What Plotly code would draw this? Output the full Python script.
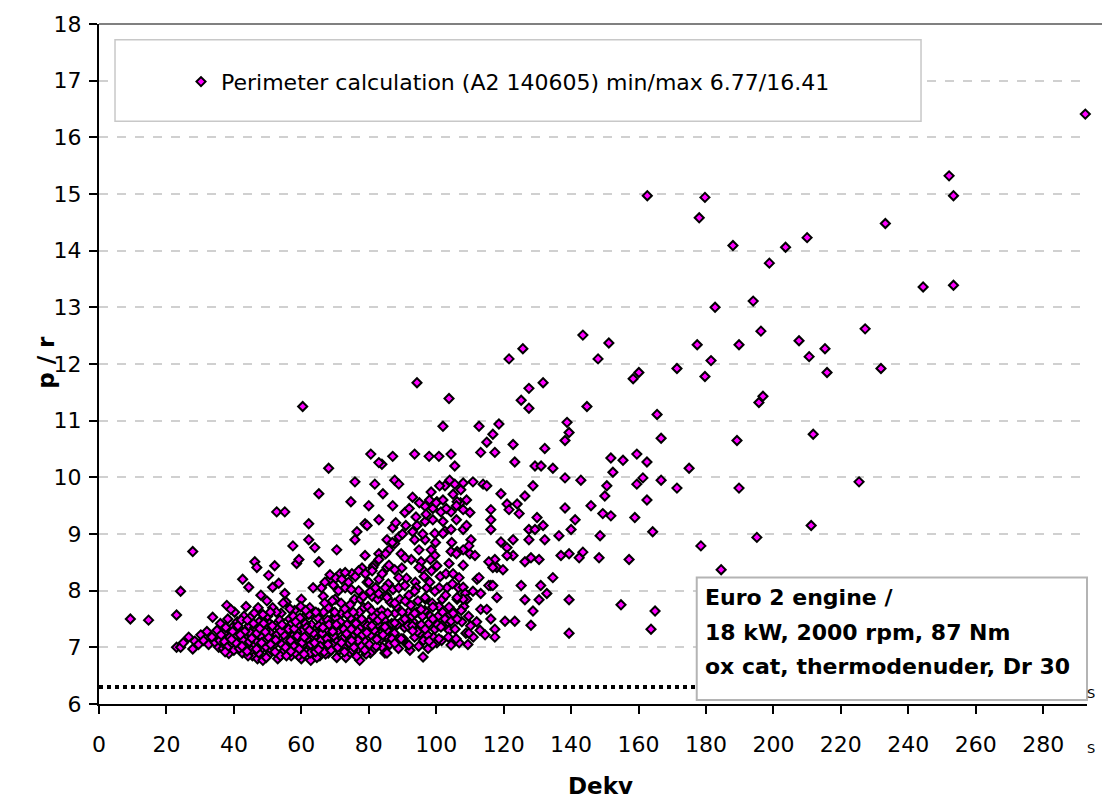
import plotly.graph_objects as go

# ---- data ----
sparse_pts = [
    (292.5, 16.41), (252.1, 15.32), (253.4, 14.97), (162.6, 14.97), (179.7, 14.94), (178.0, 14.58),
    (233.2, 14.48), (188.0, 14.09), (203.6, 14.06), (210.0, 14.23), (198.8, 13.78), (244.4, 13.36),
    (253.4, 13.39), (182.7, 13.00), (194.0, 13.11), (196.3, 12.58), (227.2, 12.62), (151.2, 12.37),
    (177.4, 12.34), (189.8, 12.34), (207.6, 12.41), (210.6, 12.13), (215.3, 12.27), (148.0, 12.09),
    (181.5, 12.06), (171.4, 11.92), (179.7, 11.78), (215.9, 11.85), (231.9, 11.92), (158.4, 11.74),
    (160.1, 11.85), (196.9, 11.43), (195.7, 11.32), (165.5, 11.11), (166.7, 10.69), (189.2, 10.65),
    (211.8, 10.76), (151.8, 10.34), (155.4, 10.30), (159.5, 10.41), (162.5, 10.27), (152.4, 10.09),
    (175.0, 10.16), (150.6, 9.85), (161.3, 9.99), (159.5, 9.88), (166.7, 9.95), (171.4, 9.81),
    (189.8, 9.81), (225.4, 9.92), (150.0, 9.67), (162.5, 9.60), (149.4, 9.36), (151.8, 9.32),
    (158.9, 9.29), (164.2, 9.04), (211.2, 9.15), (148.6, 8.97), (178.5, 8.79), (195.1, 8.94),
    (148.3, 8.58), (157.2, 8.55), (184.5, 8.37), (154.8, 7.75), (164.9, 7.64), (163.7, 7.32),
    (139.4, 7.25), (139.4, 7.84), (143.5, 12.51), (125.7, 12.27), (121.6, 12.09), (94.3, 11.67),
    (103.8, 11.39), (127.5, 11.57), (131.7, 11.67), (125.2, 11.36), (127.5, 11.22), (144.7, 11.25),
    (138.8, 10.97), (139.4, 10.79), (138.2, 10.65), (102.0, 10.90), (112.7, 10.90), (118.6, 10.94),
    (116.8, 10.76), (115.0, 10.62), (113.2, 10.44), (117.4, 10.44), (122.8, 10.58), (132.2, 10.51),
    (123.3, 10.27), (129.3, 10.20), (131.1, 10.20), (134.6, 10.16), (87.1, 10.37), (93.6, 10.41),
    (97.9, 10.37), (100.8, 10.37), (104.4, 10.41), (105.5, 10.20), (83.9, 10.23), (60.4, 11.25),
    (68.1, 10.16), (80.6, 10.41), (83.0, 10.26), (9.3, 7.50), (14.7, 7.48), (27.8, 8.69), (24.2, 7.99),
    (23.0, 7.57),
]

mid_pts = [
    (138.2, 9.99), (142.9, 9.95), (128.7, 9.85), (110.9, 9.92), (113.9, 9.88), (115.0, 9.85),
    (87.7, 9.95), (88.9, 9.88), (102.6, 9.85), (105.5, 9.88), (107.3, 9.78), (98.5, 9.74),
    (84.2, 9.71), (119.2, 9.71), (126.3, 9.67), (145.9, 9.50), (138.2, 9.46), (121.0, 9.53),
    (124.0, 9.53), (121.6, 9.43), (124.6, 9.36), (116.2, 9.43), (116.2, 9.25), (116.2, 9.08),
    (129.9, 9.29), (141.2, 9.25), (140.0, 9.08), (136.4, 8.97), (127.5, 9.08), (131.7, 9.15),
    (129.3, 9.08), (132.2, 8.90), (127.5, 8.90), (122.8, 8.90), (119.2, 8.86), (121.0, 8.76),
    (122.8, 8.62), (121.0, 8.62), (137.0, 8.62), (139.4, 8.65), (143.5, 8.68), (142.4, 8.58),
    (126.3, 8.51), (130.5, 8.55), (128.1, 8.58), (117.4, 8.55), (118.0, 8.41), (116.2, 8.09),
    (112.1, 8.20), (134.6, 8.23), (131.0, 8.09), (132.8, 7.95), (125.2, 8.09), (126.3, 7.84),
    (130.5, 7.84), (128.7, 7.64), (128.1, 7.39), (123.3, 7.46), (120.4, 7.46), (109.7, 7.25),
    (114.5, 7.22), (117.4, 7.32), (117.4, 7.18), (116.2, 7.50), (113.2, 7.67), (115.0, 7.67),
    (118.0, 7.88), (96.1, 6.83), (104.4, 7.04), (75.9, 9.92), (81.8, 9.88), (65.2, 9.71),
    (74.7, 9.57), (80.0, 9.50), (87.1, 9.50), (90.7, 9.38), (52.7, 9.39), (55.1, 9.39),
    (62.2, 9.18), (83.0, 9.25), (78.9, 9.18), (87.1, 9.11), (96.7, 9.49), (99.0, 9.45),
    (100.2, 9.57), (101.4, 9.39), (104.4, 9.39), (106.2, 9.57), (108.0, 9.43), (110.0, 9.38),
    (94.3, 9.15), (96.7, 9.22), (99.6, 9.01), (102.0, 9.01), (104.4, 9.08), (102.0, 9.22),
    (108.0, 9.08), (93.0, 9.04), (93.6, 8.90), (96.7, 8.90), (85.4, 8.90), (87.7, 8.83),
    (86.0, 8.72), (94.9, 8.72), (98.5, 8.72), (110.3, 8.90), (109.7, 8.79), (108.0, 8.72),
    (106.2, 8.69), (104.4, 8.69), (106.0, 8.65), (111.5, 8.62), (115.6, 8.51), (116.8, 8.41),
    (119.8, 8.37), (83.0, 8.65), (89.6, 8.65), (90.7, 8.58), (85.4, 8.41), (87.7, 8.37),
    (95.5, 8.51), (94.9, 8.41), (100.2, 8.44), (99.6, 8.62), (98.3, 8.55), (103.8, 8.48),
    (105.0, 8.30), (106.8, 8.23), (112.7, 8.23), (110.9, 7.99), (108.0, 8.06), (108.6, 7.95),
    (109.1, 7.85), (113.2, 7.95), (115.6, 8.09), (116.8, 8.09), (91.9, 7.04), (87.7, 7.07),
    (85.4, 6.90), (89.6, 7.15), (97.9, 7.11), (100.8, 7.15), (96.7, 7.32), (93.0, 7.29),
    (99.0, 7.50), (101.4, 7.36), (102.6, 7.50), (104.4, 7.46), (106.2, 7.50), (103.8, 7.71),
    (105.0, 7.60), (108.0, 7.85), (106.2, 7.88), (99.6, 7.99), (96.7, 7.88), (93.6, 7.99),
    (90.7, 8.09), (88.9, 8.23), (85.4, 7.88), (87.7, 7.78), (92.5, 7.74), (95.5, 7.67),
    (90.7, 7.50), (87.7, 7.43), (84.8, 7.36), (84.2, 7.22), (93.6, 7.60), (99.0, 7.71),
    (33.7, 7.53), (37.9, 7.74), (39.1, 7.67), (42.6, 8.20), (44.4, 8.06), (46.2, 8.51),
    (46.8, 8.41), (52.1, 8.44), (50.3, 8.27), (48.0, 7.92), (51.5, 8.06), (53.3, 8.13),
    (55.1, 7.95), (57.5, 8.79), (58.6, 8.48), (59.3, 8.55), (62.2, 8.90), (64.0, 8.76),
    (65.2, 8.51), (70.5, 8.72), (76.5, 9.04), (75.9, 8.90), (78.9, 8.62), (79.5, 9.15),
    (81.2, 8.41), (66.0, 8.05), (67.0, 8.15), (68.5, 8.28), (69.5, 8.10), (70.2, 8.22),
    (71.0, 8.00), (72.0, 8.20), (73.0, 8.32), (74.0, 8.15), (74.8, 8.02), (76.0, 8.25),
    (77.0, 8.35), (79.0, 8.30), (80.0, 8.15), (81.0, 8.35), (82.0, 8.05), (83.0, 8.55),
    (84.0, 8.30), (85.0, 8.65), (86.0, 8.45), (87.0, 8.85), (88.0, 9.20), (89.0, 8.95),
    (90.0, 9.00), (91.0, 9.15), (92.0, 9.45), (93.0, 9.65), (94.0, 9.30), (95.0, 9.55),
    (96.0, 9.00), (97.0, 9.35), (98.0, 9.60), (99.0, 9.25), (100.0, 9.55), (101.0, 9.85),
    (102.0, 9.60), (103.0, 9.45), (104.0, 9.95), (105.0, 9.70), (106.0, 9.50), (108.0, 9.90),
    (109.0, 9.15),
]

core_pts = [
    (23.0, 7.00), (24.2, 7.00), (25.0, 7.08), (26.6, 7.18), (27.8, 6.97), (28.4, 7.11), (29.5, 7.05),
    (30.2, 7.22), (31.0, 7.12), (32.0, 7.28), (32.5, 7.05), (33.5, 7.18), (34.5, 7.08), (35.0, 7.30),
    (35.5, 7.00), (36.0, 7.42), (36.5, 7.15), (37.0, 7.25), (38.5, 6.89), (39.0, 7.05), (39.5, 7.35),
    (40.0, 6.95), (40.5, 7.20), (41.0, 7.45), (41.5, 7.08), (42.0, 7.30), (42.5, 6.90), (43.0, 7.55),
    (43.5, 7.15), (44.0, 7.00), (44.5, 7.38), (45.0, 7.25), (45.5, 6.85), (46.0, 7.60), (46.5, 7.10),
    (47.0, 6.80), (47.5, 7.45), (48.0, 7.20), (48.6, 6.77), (49.0, 7.35), (49.5, 7.00), (50.0, 7.55),
    (50.5, 6.88), (51.0, 7.25), (51.5, 7.70), (52.0, 7.05), (52.5, 7.40), (53.0, 6.80), (53.5, 7.15),
    (54.0, 7.60), (54.5, 6.92), (55.0, 7.30), (55.5, 7.80), (56.0, 7.05), (56.5, 7.50), (57.0, 6.85),
    (57.5, 7.20), (58.0, 7.65), (58.5, 6.95), (59.0, 7.40), (59.5, 7.10), (60.0, 7.85), (60.0, 6.80),
    (60.5, 7.30), (61.0, 7.55), (61.5, 6.92), (62.0, 7.15), (62.5, 7.70), (62.8, 6.77), (63.0, 7.40),
    (63.5, 8.05), (64.0, 7.00), (64.5, 7.25), (65.0, 7.60), (65.5, 6.85), (66.0, 7.45), (66.5, 7.90),
    (67.0, 7.10), (67.5, 7.30), (68.0, 6.90), (68.0, 7.70), (68.5, 8.20), (69.0, 7.50), (69.5, 7.05),
    (70.0, 7.85), (70.5, 6.82), (71.0, 7.30), (71.5, 8.30), (72.0, 7.60), (72.5, 7.00), (73.0, 8.05),
    (73.5, 7.40), (74.0, 6.88), (74.5, 7.75), (75.0, 8.30), (75.0, 7.20), (76.0, 7.55), (76.5, 6.95),
    (77.0, 8.00), (77.3, 6.77), (77.5, 7.35), (78.0, 8.40), (78.5, 7.70), (79.0, 7.10), (79.5, 8.15),
    (80.0, 7.45), (80.5, 6.90), (81.0, 7.90), (81.5, 8.45), (82.0, 7.25), (82.5, 7.60), (83.0, 8.20),
    (84.0, 7.00), (84.8, 6.90), (85.0, 7.18),
    (35.8, 7.12), (36.8, 6.98), (37.6, 7.35), (38.2, 7.50), (38.8, 7.18), (40.2, 7.62), (40.8, 7.32),
    (41.6, 6.98), (42.2, 7.48), (42.8, 7.12), (43.6, 7.72), (44.2, 6.85), (44.8, 7.52), (45.6, 7.02),
    (46.2, 7.35), (47.2, 7.70), (47.8, 6.95), (48.6, 7.58), (49.2, 7.12), (49.8, 7.82), (50.6, 7.42),
    (51.2, 6.95), (51.8, 7.18), (52.6, 7.62), (53.2, 7.35), (53.8, 6.85), (54.6, 7.78), (55.2, 7.12),
    (55.8, 6.98), (56.6, 7.68), (57.2, 7.42), (57.8, 7.02), (58.6, 7.28), (59.2, 6.85), (59.8, 7.72),
    (60.6, 7.05), (61.2, 7.42), (61.8, 7.22), (62.6, 6.90), (63.2, 7.58), (63.8, 7.18), (64.6, 6.82),
    (65.2, 7.38), (65.8, 7.12), (66.6, 7.62), (67.2, 6.88), (67.8, 7.48), (68.6, 7.18), (69.2, 7.82),
    (69.8, 7.35), (70.6, 7.12), (71.2, 6.95), (71.8, 7.78), (72.6, 7.32), (73.2, 6.82), (73.8, 7.18),
    (74.6, 7.52), (75.2, 6.95), (75.8, 7.85), (76.6, 7.28), (77.2, 7.62), (77.8, 7.02), (78.6, 7.42),
    (79.2, 6.88), (79.8, 7.72), (80.6, 7.22), (81.2, 7.55), (81.8, 6.98), (82.6, 7.85), (83.2, 7.38),
    (83.8, 7.65), (84.6, 7.48), (85.2, 7.92), (85.8, 8.12), (86.6, 7.28), (87.2, 8.02), (87.8, 7.60),
    (88.6, 7.15), (89.2, 7.85), (89.8, 8.40), (90.6, 7.35), (91.2, 8.22), (91.8, 7.62), (92.6, 8.55),
    (93.2, 7.45), (93.8, 8.15), (94.6, 7.82), (95.2, 7.25), (95.8, 8.38), (96.6, 7.65), (97.2, 8.05),
    (97.8, 7.42), (98.6, 8.35), (99.2, 7.18), (99.8, 8.85), (100.6, 7.55), (101.2, 8.25), (101.8, 7.85),
    (102.6, 9.05), (103.2, 8.05), (103.8, 7.30), (104.6, 8.85), (105.2, 7.62), (106.0, 9.25),
    (106.6, 8.05), (107.2, 9.55), (108.0, 8.45), (109.0, 9.60), (110.0, 8.65),
    (36.2, 7.22), (37.2, 7.10), (38.0, 7.00), (39.6, 7.28), (40.6, 7.08), (41.2, 7.38), (42.4, 7.02),
    (43.2, 7.28), (44.0, 7.48), (44.6, 7.10), (45.2, 6.95), (45.8, 7.42), (46.8, 7.25), (47.4, 6.90),
    (48.2, 7.08), (48.8, 7.42), (49.6, 6.82), (50.2, 7.18), (50.8, 7.62), (51.4, 7.38), (52.2, 6.92),
    (52.8, 7.22), (53.6, 7.48), (54.2, 7.05), (54.8, 7.22), (55.6, 6.85), (56.2, 7.32), (56.8, 7.12),
    (57.6, 7.55), (58.2, 6.90), (58.8, 7.20), (59.6, 7.52), (60.2, 7.08), (60.8, 6.88), (61.6, 7.35),
    (62.2, 7.58), (62.8, 7.05), (63.6, 7.25), (64.2, 6.92), (64.8, 7.52), (65.6, 7.02), (66.2, 7.25),
    (66.8, 6.92), (67.6, 7.15), (68.2, 7.40), (68.8, 6.95), (69.6, 7.20), (70.2, 7.52), (70.8, 7.00),
    (71.6, 7.45), (72.2, 7.15), (72.8, 6.92), (73.6, 7.58), (74.2, 7.08), (74.8, 7.32), (75.6, 7.00),
    (76.2, 7.42), (76.8, 7.12), (77.6, 7.85), (78.2, 7.22), (78.8, 6.95), (79.6, 7.38), (80.2, 7.05),
    (80.8, 7.65), (81.6, 7.30), (82.2, 7.02), (82.8, 7.48), (83.6, 7.15), (84.4, 7.35), (85.6, 7.60),
    (86.2, 7.05), (86.8, 7.42), (87.6, 7.25), (88.2, 7.72), (88.8, 6.98), (89.6, 7.45), (90.2, 7.15),
    (90.8, 7.82), (91.6, 7.38), (92.2, 6.95), (92.8, 7.55), (93.6, 7.18), (94.2, 7.62), (94.8, 7.02),
    (95.6, 7.40), (96.2, 7.12), (96.8, 7.85), (97.6, 6.98), (98.2, 7.55), (98.8, 7.78), (99.6, 7.32),
    (100.2, 7.08), (100.8, 7.72), (101.6, 7.12), (102.2, 7.42), (102.8, 7.92), (103.6, 7.18),
    (104.2, 7.58), (104.8, 8.12), (105.6, 7.32), (106.2, 7.85), (106.8, 7.08), (107.6, 7.45),
    (108.2, 7.72), (108.8, 7.25), (109.6, 7.55), (110.2, 7.38), (111.0, 7.18), (112.0, 7.45),
    (113.0, 7.30),
    (37.4, 6.92), (39.3, 7.14), (41.9, 7.22), (43.9, 6.93), (45.3, 7.16), (46.7, 6.97), (47.7, 7.33),
    (49.3, 7.27), (50.9, 7.05), (52.4, 7.13), (53.9, 7.29), (55.3, 7.00), (56.9, 6.93), (57.9, 7.33),
    (59.4, 6.97), (60.9, 7.18), (62.4, 7.30), (63.9, 7.08), (65.1, 6.96), (66.4, 7.35), (67.9, 7.05),
    (69.3, 7.28), (70.4, 7.40), (71.9, 7.08), (73.4, 7.24), (74.9, 7.12), (76.4, 6.84), (77.9, 7.50),
    (79.4, 7.26), (80.9, 7.38), (82.4, 7.14), (83.9, 7.55), (85.4, 7.30), (86.9, 7.15), (88.4, 7.40),
    (89.9, 7.62), (91.4, 7.05), (92.9, 7.38), (94.4, 7.28), (95.9, 7.55), (97.4, 7.22), (98.9, 7.05),
    (100.4, 7.40), (101.9, 7.62), (103.4, 7.45), (105.9, 7.15), (107.4, 7.65), (109.4, 7.05),
    (54.3, 7.40), (58.3, 7.45), (61.3, 7.65), (64.3, 7.62), (66.9, 7.78), (69.9, 7.62), (72.9, 7.68),
    (75.4, 7.62), (78.4, 7.90), (80.4, 7.98), (82.9, 7.95), (84.9, 8.05), (86.4, 7.80), (88.9, 8.05),
    (91.9, 7.92), (94.1, 8.05), (96.4, 8.25), (98.1, 8.15), (100.9, 8.05), (102.9, 8.30),
]

limit_line_y = 6.3
x_ticks = list(range(0, 281, 20))
legend_label = "Perimeter calculation (A2 140605) min/max 6.77/16.41"
note_lines = ["Euro 2 engine /", "18 kW, 2000 rpm, 87 Nm", "ox cat, thermodenuder, Dr 30"]

all_pts = core_pts + mid_pts + sparse_pts
xs = [p[0] for p in all_pts]
ys = [p[1] for p in all_pts]

FONT = "DejaVu Sans"

fig = go.Figure()
fig.add_trace(go.Scatter(
    x=xs, y=ys, mode="markers", name=legend_label,
    marker=dict(symbol="diamond", size=7, color="#ff00ff",
                line=dict(color="black", width=2)),
    cliponaxis=False,
))

shapes = [
    dict(type="line", xref="x", yref="y", x0=0, x1=293, y0=limit_line_y, y1=limit_line_y,
         line=dict(color="black", width=4, dash="dot"), layer="above"),
    dict(type="line", xref="paper", yref="paper", x0=0, x1=1.02, y0=1, y1=1,
         line=dict(color="#808080", width=2), layer="above"),
    dict(type="rect", xref="paper", yref="paper", x0=0.0162, x1=0.832, y0=0.857, y1=0.977,
         line=dict(color="#c8c8c8", width=1.5), fillcolor="white", layer="above"),
    dict(type="rect", xref="paper", yref="paper", x0=0.605, x1=1.0, y0=0.006, y1=0.186,
         line=dict(color="#b4b4b4", width=2), fillcolor="white", layer="above"),
]

note_y = [0.1564, 0.1053, 0.0556]
annotations = [
    dict(xref="paper", yref="paper", x=0.611, y=yy, xanchor="left", yanchor="middle",
         text="<b>%s</b>" % s, showarrow=False,
         font=dict(family=FONT, size=22, color="black"))
    for s, yy in zip(note_lines, note_y)
] + [
    dict(xref="paper", yref="paper", x=-0.069, y=0.503, text="<b>p / r</b>", textangle=-90,
         showarrow=False, font=dict(family=FONT, size=23, color="black")),
    dict(xref="paper", yref="paper", x=0.508, y=-0.121, text="<b>Dekv</b>", yanchor="middle",
         showarrow=False, font=dict(family=FONT, size=23, color="black")),
    dict(xref="paper", yref="paper", x=0.9975, y=0.016, xanchor="left", yanchor="middle",
         text="S", showarrow=False, font=dict(family=FONT, size=13, color="black")),
    dict(xref="paper", yref="paper", x=0.9975, y=-0.066, xanchor="left", yanchor="middle",
         text="S", showarrow=False, font=dict(family=FONT, size=13, color="black")),
]

fig.update_layout(
    width=1102, height=801,
    margin=dict(l=99, r=15, t=20, b=97),
    paper_bgcolor="white", plot_bgcolor="white",
    font=dict(family=FONT, size=22, color="black"),
    showlegend=True,
    legend=dict(x=0.083, y=0.915, xanchor="left", yanchor="middle",
                bgcolor="rgba(0,0,0,0)", borderwidth=0,
                font=dict(family=FONT, size=22, color="black")),
    shapes=shapes, annotations=annotations,
)
fig.update_xaxes(range=[0, 293], tickvals=x_ticks, showgrid=False, zeroline=False,
                 showline=True, linecolor="black", linewidth=2,
                 ticks="outside", ticklen=8, tickwidth=1.5, tickcolor="black",
                 ticklabelstandoff=12,
                 tickfont=dict(family=FONT, size=22, color="black"))
fig.update_yaxes(range=[6, 18], dtick=1, showgrid=True, gridcolor="#d0d0d0", gridwidth=1.5,
                 griddash="dash", zeroline=False,
                 showline=True, linecolor="black", linewidth=2,
                 ticks="outside", ticklen=8, tickwidth=1.5, tickcolor="black",
                 ticklabelstandoff=3,
                 tickfont=dict(family=FONT, size=22, color="black"))

fig.write_html("out.html")
